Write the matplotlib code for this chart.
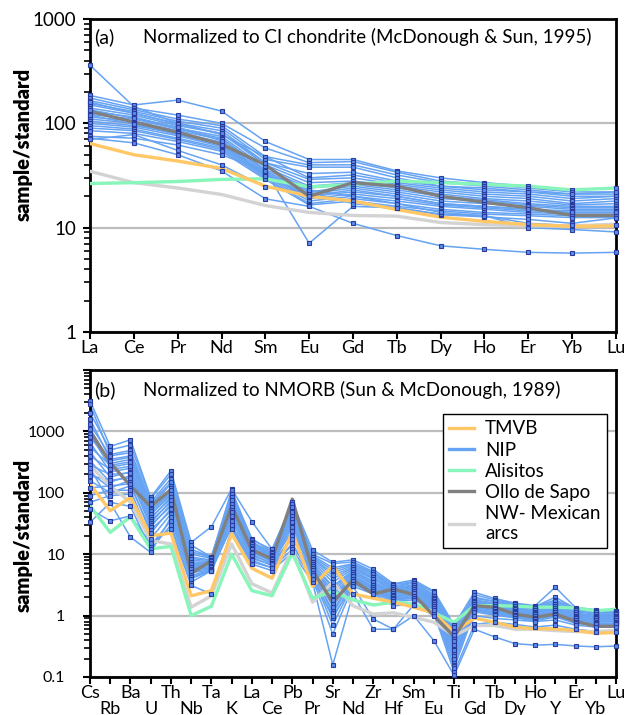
import matplotlib
matplotlib.use("Agg")
import matplotlib.pyplot as plt
import numpy as np
from matplotlib.ticker import LogLocator, NullFormatter
from matplotlib.lines import Line2D

plt.rcParams["font.family"] = ["Lato", "DejaVu Sans"]

# ---- panel (a): chondrite-normalized REE ----
ree = ["La", "Ce", "Pr", "Nd", "Sm", "Eu", "Gd", "Tb", "Dy", "Ho", "Er", "Yb", "Lu"]

ree_tmvb = [64, 50, 43.5, 37, 25, 20, 18, 14.9, 12.6, 11.5, 10.7, 10.3, 10.4]
ree_alisitos = [26.5, 27, 27.7, 29, 29.4, 24.6, 26, 28, 27, 26, 25, 23, 24]
ree_ollo = [130, 103, 82, 63, 40, 20, 27, 25, 20, 17.5, 15.5, 13.1, 13.1]
ree_nwmex = [34.7, 27, 24, 20.8, 16.3, 14, 13.1, 12.9, 11.2, 10.7, 10.4, 10.4, 10.8]

ree_nip = [
    [360, 145, 100, 78, 48, 30, 32, 27, 24, 22, 21, 19, 20],
    [185, 150, 167, 131, 67, 45, 45, 35, 30, 27, 25, 23, 24],
    [175, 140, 120, 100, 58, 42, 43, 34, 28, 26, 24, 22, 22],
    [165, 135, 110, 95, 48, 40, 40, 32, 27, 25, 23, 21, 21],
    [155, 130, 105, 90, 45, 38, 38, 30, 25, 24, 22, 20, 20],
    [150, 125, 100, 85, 42, 29, 30, 26, 23, 21, 20, 18, 19],
    [140, 120, 95, 80, 40, 27, 28, 25, 22, 20, 19, 17, 18],
    [130, 115, 90, 75, 38, 25, 27, 24, 21, 19, 18, 16.5, 17],
    [122, 110, 88, 72, 36, 24, 26, 23, 20, 18.5, 17, 16, 16],
    [115, 105, 85, 70, 35, 22, 25, 22, 19, 18, 16.5, 15.5, 15.5],
    [110, 100, 82, 66, 34, 21, 24, 21, 18, 17, 16, 15, 15],
    [105, 95, 80, 63, 33, 20, 22, 20, 17, 16, 15, 14.5, 14.5],
    [100, 92, 76, 60, 32, 19, 21, 19, 16.5, 15.5, 14.5, 14, 14],
    [95, 88, 72, 58, 31, 18, 20, 18, 16, 15, 14, 13.5, 13.5],
    [90, 85, 70, 56, 30, 17, 19, 17, 15, 14, 13.5, 13, 13],
    [85, 80, 67, 54, 29, 16.5, 18, 16, 14.5, 13.5, 13, 12.5, 12.5],
    [75, 72, 62, 50, 35, 7.1, 16, 15.5, 13.3, 12.7, 12, 11, 12.4],
    [72, 65, 50, 35, 18.9, 16, 11, 8.4, 6.7, 6.2, 5.8, 5.7, 5.8],
    [70, 78, 55, 40, 24.4, 22, 17, 15.5, 13.5, 13, 10, 9.6, 9.1],
    [120, 98, 78, 62, 32, 23, 20, 17, 14, 13, 11, 10.5, 10.6],
    [160, 125, 98, 80, 42, 33, 34, 28, 25, 23, 22, 21, 22],
    [135, 112, 92, 68, 31, 20, 23, 20, 17, 16, 15, 14, 14],
]

# ---- panel (b): NMORB-normalized spider diagram ----
spider = ["Cs", "Rb", "Ba", "U", "Th", "Nb", "Ta", "K", "La", "Ce", "Pb", "Pr", "Sr", "Nd",
          "Zr", "Hf", "Sm", "Eu", "Ti", "Gd", "Tb", "Dy", "Ho", "Y", "Er", "Yb", "Lu"]

sp_tmvb = [138, 51, 84, 20, 22, 2.1, 2.55, 21.5, 5.9, 4.06, 23, 3.0, 6.5, 2.25,
           1.92, 1.65, 1.37, 1.1, 0.54, 0.91, 0.78, 0.65, 0.61, 0.61, 0.57, 0.515, 0.53]
sp_alisitos = [61, 22.7, 40.7, 12.2, 13.4, 1.0, 1.42, 10, 2.55, 2.1, 10.4, 1.92, 2.46, 1.8,
               1.49, 1.65, 1.57, 1.11, 0.78, 1.45, 1.45, 1.43, 1.37, 1.37, 1.33, 1.2, 1.27]
sp_ollo = [1020, 310, 130, 60, 112, 4.9, 7.8, 61, 11.7, 8.4, 79, 5.4, 1.65, 3.8,
           2.25, 2.7, 2.2, 1.0, 0.45, 1.45, 1.37, 1.06, 0.94, 1.06, 0.81, 0.67, 0.67]
sp_nwmex = [275, 130, 70, 16.6, 14.7, 1.37, 2.1, 14.7, 3.3, 2.34, 12.2, 1.65, 3.5, 1.45,
            1.06, 1.11, 0.94, 0.78, 0.47, 0.69, 0.69, 0.6, 0.6, 0.57, 0.55, 0.55, 0.57]

sp_nip = [
    [3150, 570, 730, 84, 228, 15.6, 28, 115, 34, 12, 70, 11.7, 7.4, 8.1, 5.7, 3.3, 3.8, 2.5, 0.7, 2.4, 1.9, 1.6, 1.45, 2.9, 1.35, 1.25, 1.2],
    [2750, 420, 490, 70, 170, 12, 9, 100, 18, 11, 60, 9.5, 6, 7, 5, 3, 3.5, 2.2, 0.6, 2.0, 1.7, 1.5, 1.4, 2.0, 1.3, 1.2, 1.2],
    [2000, 500, 600, 80, 200, 14, 9, 110, 17, 12, 65, 10, 7, 7.5, 5.2, 3.2, 3.6, 2.4, 0.65, 2.2, 1.8, 1.55, 1.4, 1.8, 1.3, 1.2, 1.15],
    [1580, 350, 400, 60, 140, 10, 8.5, 90, 16, 10, 55, 8.5, 5, 6.5, 4.5, 2.8, 3.2, 2.0, 0.5, 1.8, 1.6, 1.4, 1.3, 1.6, 1.2, 1.1, 1.1],
    [1300, 400, 450, 65, 150, 11, 8.8, 95, 15.5, 11, 58, 9, 5.5, 6.8, 4.8, 2.9, 3.4, 2.1, 0.55, 1.9, 1.7, 1.45, 1.35, 1.7, 1.25, 1.15, 1.1],
    [1100, 300, 350, 55, 120, 9, 8, 80, 15, 9.5, 50, 8, 4, 6, 4, 2.6, 3.0, 1.9, 0.45, 1.7, 1.5, 1.3, 1.2, 1.5, 1.1, 1.0, 1.0],
    [900, 260, 300, 50, 100, 8, 7.5, 70, 14, 9, 45, 7, 3, 5.5, 3.6, 2.4, 2.8, 1.8, 0.4, 1.6, 1.4, 1.25, 1.1, 1.4, 1.0, 0.95, 0.95],
    [800, 330, 380, 50, 110, 8.5, 7.8, 85, 14.5, 10.5, 48, 8.5, 4.5, 6.2, 4.2, 2.7, 3.1, 1.95, 0.48, 1.75, 1.55, 1.35, 1.25, 1.55, 1.15, 1.05, 1.05],
    [660, 220, 250, 45, 90, 7, 7, 60, 13, 8.5, 40, 6.5, 2.5, 5, 3.3, 2.3, 2.6, 1.7, 0.35, 1.5, 1.3, 1.2, 1.05, 1.3, 0.95, 0.9, 0.9],
    [560, 280, 320, 45, 95, 7.5, 7.2, 75, 13.5, 9.8, 42, 7.5, 3.5, 5.8, 3.9, 2.5, 2.9, 1.85, 0.42, 1.65, 1.45, 1.3, 1.15, 1.45, 1.05, 1.0, 1.0],
    [460, 180, 220, 40, 80, 6.5, 6.5, 55, 12, 8, 35, 6, 2.0, 4.5, 3.0, 2.1, 2.4, 1.6, 0.3, 1.4, 1.25, 1.1, 1.0, 1.2, 0.9, 0.85, 0.85],
    [400, 240, 270, 38, 85, 6.8, 6.8, 65, 12.5, 9.2, 38, 7.0, 2.8, 5.2, 3.5, 2.3, 2.7, 1.75, 0.38, 1.55, 1.35, 1.2, 1.1, 1.35, 1.0, 0.95, 0.95],
    [330, 150, 190, 35, 70, 6, 6, 50, 11, 7.5, 30, 5.5, 1.6, 4.2, 2.8, 2.0, 2.2, 1.5, 0.25, 1.3, 1.2, 1.05, 0.95, 1.1, 0.85, 0.8, 0.8],
    [280, 200, 210, 32, 75, 6.2, 6.5, 58, 12, 8.8, 33, 6.5, 2.2, 4.8, 3.2, 2.2, 2.5, 1.65, 0.33, 1.45, 1.3, 1.15, 1.05, 1.25, 0.95, 0.9, 0.9],
    [250, 70, 60, 12, 30, 3.5, 5.4, 28, 7.5, 6, 12, 4.0, 0.5, 3.0, 0.88, 0.6, 1.5, 1.1, 0.12, 0.72, 0.78, 0.72, 0.65, 0.7, 0.6, 0.55, 0.55],
    [215, 120, 160, 30, 60, 5.5, 6, 45, 10, 7, 25, 5, 1.2, 4, 2.6, 1.9, 2.0, 1.4, 0.2, 1.25, 1.1, 1.0, 0.9, 1.05, 0.8, 0.75, 0.75],
    [190, 160, 175, 28, 65, 5.8, 6.2, 52, 11, 8.2, 28, 6.0, 1.8, 4.4, 2.9, 2.05, 2.3, 1.55, 0.28, 1.35, 1.2, 1.1, 1.0, 1.15, 0.9, 0.85, 0.85],
    [157, 100, 130, 25, 50, 5, 5.5, 40, 9, 6.5, 20, 4.5, 0.9, 3.5, 2.4, 1.8, 1.9, 1.3, 0.15, 1.2, 1.05, 0.95, 0.85, 1.0, 0.75, 0.7, 0.7],
    [120, 130, 140, 22, 55, 5.2, 5.8, 48, 10.5, 7.8, 24, 5.5, 1.4, 4.0, 2.7, 1.95, 2.1, 1.45, 0.22, 1.3, 1.15, 1.02, 0.92, 1.08, 0.85, 0.8, 0.8],
    [90, 110, 110, 18, 45, 4.5, 5.5, 42, 9.5, 7.2, 18, 5, 1.1, 3.7, 2.5, 1.85, 1.95, 1.35, 0.18, 1.22, 1.08, 0.98, 0.88, 1.02, 0.8, 0.75, 0.75],
    [70, 90, 95, 14, 35, 4.2, 5.4, 35, 8.5, 6.8, 14, 4.5, 0.7, 3.3, 2.3, 1.7, 1.8, 1.25, 0.14, 1.15, 1.02, 0.92, 0.82, 0.95, 0.75, 0.72, 0.72],
    [54, 35, 42, 15, 26, 3.1, 2.25, 25.7, 6.9, 5.4, 10.7, 3.5, 0.158, 2.25, 0.6, 0.6, 1.0, 0.39, 0.106, 0.6, 0.45, 0.35, 0.33, 0.34, 0.32, 0.31, 0.32],
    [33, 69, 19, 10.7, 40, 4, 5.4, 30, 8, 6, 15, 4, 1.0, 3, 2.25, 1.45, 1.5, 1.0, 0.2, 1.0, 0.9, 0.85, 0.8, 0.85, 0.7, 0.65, 0.65],
]

C_TMVB = "#FFC766"
C_NIP = "#66A3F2"
C_ALI = "#88F5BA"
C_OLLO = "#808080"
C_NW = "#D3D3D3"
MK_FACE = "#5A8CEB"
MK_EDGE = "#2B3D9C"


def style_axis(ax, labels, ymin, ymax, major, major_labels, ysize, ypad, label_y):
    ax.set_yscale("log")
    ax.set_ylim(ymin, ymax)
    ax.set_xlim(0, len(labels) - 1)
    ax.set_yticks(major)
    ax.set_yticklabels(major_labels, fontsize=ysize)
    ax.yaxis.set_minor_locator(LogLocator(base=10, subs=np.arange(2, 10), numticks=20))
    ax.yaxis.set_minor_formatter(NullFormatter())
    ax.set_xticks(np.arange(len(labels)))
    ax.set_xticklabels(labels, fontsize=13)
    ax.tick_params(axis="y", which="major", direction="out", length=5, width=1.5, pad=ypad)
    ax.tick_params(axis="y", which="minor", direction="out", length=4, width=1.2)
    ax.tick_params(axis="x", direction="out", length=5, width=1.5, pad=1)
    ax.yaxis.grid(True, which="major", color="#BDBDBD", lw=1.6)
    ax.set_axisbelow(True)
    for sp in ax.spines.values():
        sp.set_linewidth(2)
    ax.set_ylabel("sample/standard", fontsize=14.5, fontweight="heavy")
    ax.yaxis.set_label_coords(-0.108, label_y)


def draw_panel(ax, nip, tmvb, ali, ollo, nw):
    x = np.arange(len(tmvb))
    for row in nip:
        ax.plot(x, row, color=C_NIP, lw=1.1, zorder=2)
    ax.plot(x, nw, color=C_NW, lw=2.4, zorder=3)
    ax.plot(x, ali, color=C_ALI, lw=2.4, zorder=3)
    ax.plot(x, tmvb, color=C_TMVB, lw=2.4, zorder=3)
    ax.plot(x, ollo, color=C_OLLO, lw=2.4, zorder=3)
    for row in nip:
        ax.plot(x, row, ls="none", marker="s", ms=3.4, mfc=MK_FACE, mec=MK_EDGE,
                mew=0.8, zorder=4, clip_on=False)


fig = plt.figure(figsize=(6.3, 7.15), dpi=100)
ax1 = fig.add_axes([90 / 630, (715 - 332) / 715, 526 / 630, (332 - 19) / 715])
ax2 = fig.add_axes([90 / 630, (715 - 677) / 715, 526 / 630, (677 - 370) / 715])

draw_panel(ax1, ree_nip, ree_tmvb, ree_alisitos, ree_ollo, ree_nwmex)
style_axis(ax1, ree, 1, 1000, [1, 10, 100, 1000], ["1", "10", "100", "1000"],
           13.5, 5, 0.6)
ax1.text(0.008, 0.942, "(a)", transform=ax1.transAxes, fontsize=14, va="center")
ax1.text(0.1, 0.942, "Normalized to CI chondrite (McDonough & Sun, 1995)",
         transform=ax1.transAxes, fontsize=13.5, va="center")

draw_panel(ax2, sp_nip, sp_tmvb, sp_alisitos, sp_ollo, sp_nwmex)
style_axis(ax2, spider, 0.1, 10000, [0.1, 1, 10, 100, 1000, 10000],
           ["0.1", "1", "10", "100", "1000", ""], 11.5, 13, 0.46)
for i, tick in enumerate(ax2.xaxis.get_major_ticks()):
    if i % 2 == 1:
        tick.set_pad(12)
ax2.text(0.008, 0.935, "(b)", transform=ax2.transAxes, fontsize=14, va="center")
ax2.text(0.1, 0.935, "Normalized to NMORB (Sun & McDonough, 1989)",
         transform=ax2.transAxes, fontsize=13.5, va="center")

handles = [
    Line2D([], [], color=C_TMVB, lw=2.4),
    Line2D([], [], color=C_NIP, lw=2.4),
    Line2D([], [], color=C_ALI, lw=2.4),
    Line2D([], [], color=C_OLLO, lw=2.4),
    Line2D([], [], color=C_NW, lw=2.4),
]
names = ["TMVB", "NIP", "Alisitos", "Ollo de Sapo", "NW- Mexican\narcs"]
leg = ax2.legend(handles, names, loc="upper right", bbox_to_anchor=(0.983, 0.857),
                 fontsize=13.5, frameon=True, fancybox=False, edgecolor="black",
                 framealpha=1, handlelength=1.3, handletextpad=0.6,
                 labelspacing=0.22, borderpad=0.35, borderaxespad=0)
leg.get_frame().set_linewidth(1.0)
leg.set_zorder(10)

fig.savefig("out.png", dpi=100)
